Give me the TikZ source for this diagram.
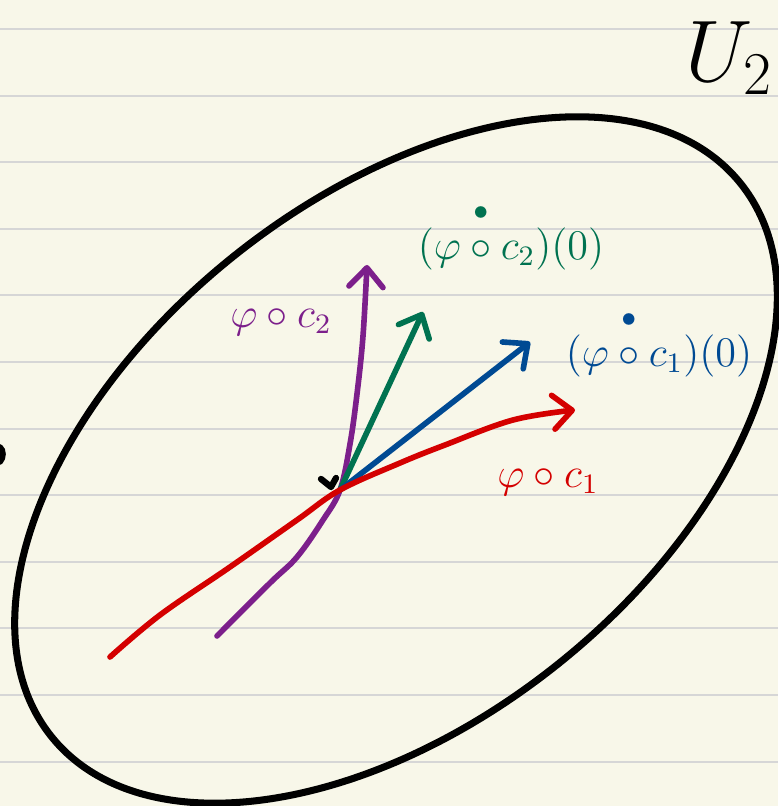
\documentclass[tikz,border=0pt]{standalone}
\usepackage{amsmath}
\usetikzlibrary{arrows.meta}
\definecolor{paper}{HTML}{F8F7E9}
\definecolor{ruling}{HTML}{D6D6D6}
\definecolor{inkred}{HTML}{D40000}
\definecolor{inkgreen}{HTML}{007250}
\definecolor{inkblue}{HTML}{004A93}
\definecolor{inkpurple}{HTML}{7C1F8B}

\begin{document}
\begin{tikzpicture}[x=0.01cm,y=0.01cm,
  ink/.style={line width=1.6pt,line cap=round,line join=round},
  barb/.style={-{Straight Barb[length=1.9mm,width=3.4mm,round]}},
  lbl/.style={font=\fontsize{12}{14}\selectfont}]
  \useasboundingbox (0,0) rectangle (778,806);
  \fill[paper] (0,0) rectangle (778,806);
  \foreach \k in {0,...,11}{\draw[ruling,line width=.6pt] (0,777-66.6*\k) -- (778,777-66.6*\k);}
  % the chart domain
  \draw[line width=2pt,rotate around={38.75:(396,346)}] (396,346) ellipse [x radius=4.416cm,y radius=2.604cm];
  \node[font=\fontsize{25}{28}\selectfont,inner sep=0pt,anchor=east] (uname) at (774,748) {$U_2$};
  \draw[line width=1.6pt,line cap=round] (0,359) .. controls (4,356) and (4,348) .. (0,344);
  % base point and curves
  \coordinate (p) at (340,316);
  \coordinate (r0) at (110,149);
  \coordinate (r1) at (575,396);
  \coordinate (q0) at (217,170);
  \coordinate (q1) at (367,541);
  \coordinate (g1) at (423,494);
  \coordinate (b1) at (530,464);
  \draw[line width=1.8pt,line cap=round,line join=round] (321,327) -- (331,319) -- (336,328);
  \draw[ink,inkpurple,barb] plot[smooth,tension=.6] coordinates {(q0) (270,223) (297,249) (323,286) (p) (350,362) (357,412) (363,470) (q1)};
  \draw[ink,inkgreen,barb] (p) -- (g1);
  \draw[ink,inkblue,barb] (p) -- (b1);
  \draw[ink,inkred,barb] plot[smooth,tension=.6] coordinates {(r0) (160,191) (230,239) (297,286) (p) (400,343) (445,361) (513,386) (r1)};
  % labels
  \node[lbl,text=inkgreen] (lgreen) at (511,570) {$(\varphi\overset{\bullet}{\vphantom{(}\circ}c_2)(0)$};
  \node[lbl,text=inkblue] (lblue) at (659,463) {$(\varphi\overset{\bullet}{\vphantom{(}\circ}c_1)(0)$};
  \node[lbl,text=inkpurple] (lpurple) at (281,484) {$\varphi\circ c_2$};
  \node[lbl,text=inkred] (lred) at (548,324) {$\varphi\circ c_1$};
\end{tikzpicture}
\end{document}
